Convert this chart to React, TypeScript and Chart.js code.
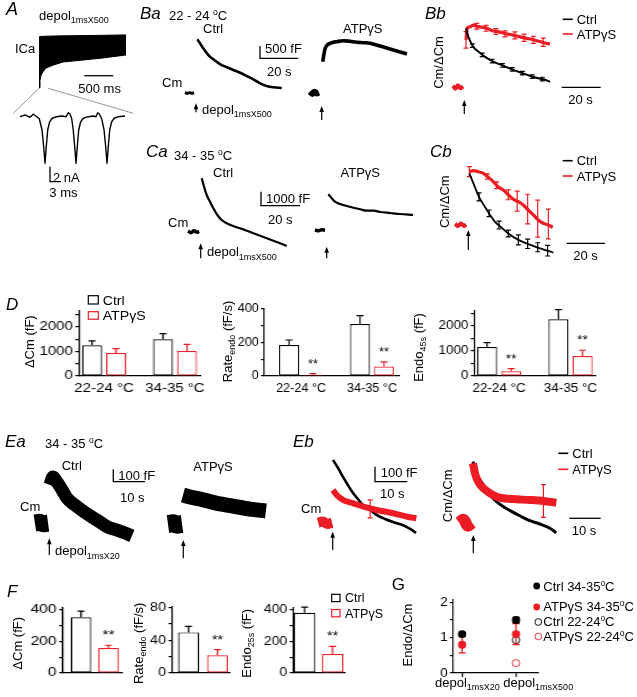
import React, { useEffect, useRef } from 'react';
import { Chart, registerables } from 'chart.js';

Chart.register(...registerables);

const FONT = '"Liberation Sans", Arial, Helvetica, sans-serif';
const RED = '#ec1c24';
const RED_OPEN = '#e8505a';
const GRAY = '#8e9a9a';

/* ---------------- Panel A : ICa ---------------- */
const icaTimeMs = [0, 17, 34, 69, 121, 241, 414, 759, 1103, 1500];
const icaPeakNa = [-5.4, -4.6, -4.1, -3.7, -3.3, -3.0, -2.66, -2.45, -2.23, -1.91];
const icaOutNa = [0.0, 0.04, 0.06, 0.07, 0.08, 0.1, 0.12, 0.15, 0.18, 0.22];
const insetTimeMs = [0, 0.49, 0.97, 1.29, 1.62, 1.87, 2.14, 2.3, 2.43, 2.55, 2.69, 2.88, 3.14, 3.56, 4.05, 4.47, 4.69, 4.85, 5.02, 5.17, 5.31, 5.44, 5.56, 5.7, 5.89, 6.15, 6.63, 7.12, 7.38, 7.54, 7.7, 7.93, 8.16, 8.32, 8.45, 8.57, 8.71, 8.9, 9.15, 9.54, 10.19];
const insetNa = [0, 0.23, -0.08, 0.32, 0, -0.27, -1.77, -4.0, -6.21, -4.0, -1.77, -0.67, -0.21, 0, 0.09, 0, 0.53, 0.36, -0.27, -1.77, -4.0, -6.21, -4.0, -1.77, -0.67, -0.21, 0, 0.09, 0, 0.53, 0.36, -0.27, -1.77, -4.0, -6.21, -4.0, -1.77, -0.67, -0.21, 0, 0.09];

/* ---------------- Panel Ba (22-24 C), Cm in fF, t in s ---------------- */
const baCtrlBaseT = [-5.8, -4.6, -3.4, -2.2, -1.0];
const baCtrlBaseCm = [20, -15, 15, -10, 5];
const baCtrlT = [0.7, 2.1, 3.8, 6.5, 9.1, 12.6, 16.2, 19.6, 23.2, 26.7, 30.2, 33.7, 37.2, 40.7, 45.1];
const baCtrlCm = [2238, 2071, 1863, 1583, 1404, 1208, 1071, 958, 846, 708, 571, 404, 292, 238, 208];
const baAtpBaseT = [-6.3, -5.1, -3.9, -2.8, -1.6];
const baAtpBaseCm = [40, -60, 30, -40, 0];
const baAtpT = [0.4, 1.1, 1.7, 2.8, 5.1, 7.7, 11.2, 14.7, 18.3, 21.7, 25.3, 30.5, 35.8, 41.1, 44.7];
const baAtpCm = [1283, 1633, 1842, 1979, 2075, 2117, 2158, 2133, 2092, 2075, 2050, 1938, 1813, 1688, 1604];

/* ---------------- Panel Ca (34-35 C) ---------------- */
const caCtrlBaseT = [-6.8, -5.3, -3.7, -2.1, -1.0];
const caCtrlBaseCm = [50, -80, 60, -40, 30];
const caCtrlT = [0.4, 1.6, 3.0, 4.7, 6.5, 8.6, 10.9, 13.5, 17.0, 20.5, 24.1, 27.6, 31.1, 34.6, 38.1, 41.6, 45.1];
const caCtrlCm = [3814, 3221, 2621, 2150, 1671, 1193, 836, 600, 407, 243, 71, -114, -286, -471, -643, -829, -1021];
const caAtpBaseT = [-6.3, -4.5, -2.7, -1.05];
const caAtpBaseCm = [30, -40, 40, 0];
const caAtpT = [0.7, 2.5, 4.2, 6.8, 10.4, 13.9, 17.5, 21.0, 24.5, 28.0, 33.2, 38.4, 45.3];
const caAtpCm = [2571, 2286, 2043, 1879, 1736, 1614, 1500, 1400, 1400, 1307, 1236, 1164, 1093];

/* ---------------- Panel Bb (normalised) ---------------- */
const bbBaseT = [-5.8, -4.5, -3.2, -1.9, -0.5];
const bbBaseV = [0.02, -0.03, 0.03, -0.02, 0.01];
const bbCtrlT = [1.1, 1.7, 2.8, 4.9, 7.5, 11.1, 15.4, 20.7, 25.9, 31.2, 36.5, 41.7, 45.3];
const bbCtrlV = [0.995, 0.91, 0.81, 0.68, 0.6, 0.51, 0.43, 0.36, 0.29, 0.23, 0.17, 0.13, 0.09];
const bbCtrlErrT = [4.4, 9.6, 14.9, 20.2, 25.4, 30.7, 35.9, 41.2];
const bbCtrlErrV = [0.7, 0.545, 0.44, 0.365, 0.3, 0.235, 0.175, 0.135];
const bbCtrlErr = [0.03, 0.03, 0.03, 0.03, 0.03, 0.03, 0.03, 0.03];
const bbAtpT = [1.05, 1.7, 3.2, 4.9, 6.7, 8.4, 11.9, 15.4, 18.9, 22.5, 25.9, 29.5, 33.0, 36.5, 40.0, 43.5, 45.3];
const bbAtpV = [0.8, 1.0, 1.02, 1.05, 1.03, 1.02, 0.995, 0.95, 0.93, 0.9, 0.88, 0.85, 0.825, 0.8, 0.77, 0.74, 0.73];
const bbAtpErrT = [1.05, 6.7, 11.6, 16.8, 21.6, 26.8, 31.6, 36.5, 41.7];
const bbAtpErrV = [0.8, 1.03, 0.995, 0.94, 0.9, 0.875, 0.835, 0.8, 0.76];
const bbAtpErr = [0.14, 0.05, 0.05, 0.05, 0.05, 0.06, 0.06, 0.06, 0.07];

/* ---------------- Panel Cb (normalised) ---------------- */
const cbBaseT = [-6.8, -5.3, -3.7, -2.1, -1.0];
const cbBaseV = [0.02, -0.02, 0.03, -0.02, 0.01];
const cbCtrlT = [0.7, 2.8, 5.8, 8.9, 11.6, 14.2, 16.8, 21.2, 26.5, 31.7, 37.0, 42.3, 44.9];
const cbCtrlV = [0.975, 0.79, 0.53, 0.345, 0.19, 0.06, -0.02, -0.16, -0.28, -0.36, -0.43, -0.49, -0.52];
const cbCtrlErrT = [5.8, 11.1, 16.3, 21.2, 26.5, 31.4, 36.7, 41.9];
const cbCtrlErrV = [0.53, 0.22, 0.0, -0.16, -0.28, -0.355, -0.42, -0.485];
const cbCtrlErr = [0.075, 0.063, 0.075, 0.063, 0.094, 0.088, 0.085, 0.1];
const cbAtpT = [0.7, 2.8, 5.4, 8.1, 10.7, 13.3, 15.9, 18.6, 21.2, 23.8, 26.5, 29.1, 31.7, 34.4, 37.0, 39.6, 42.3, 44.6];
const cbAtpV = [1.006, 1.025, 1.006, 0.975, 0.9, 0.82, 0.72, 0.66, 0.57, 0.485, 0.44, 0.377, 0.283, 0.189, 0.094, 0.032, 0.0, -0.043];
const cbAtpErrT = [0.7, 10.2, 15.1, 21.2, 25.9, 31.4, 36.7, 42.3];
const cbAtpErrV = [1.006, 0.915, 0.75, 0.57, 0.45, 0.3, 0.12, 0.02];
const cbAtpErr = [0.094, 0.05, 0.063, 0.094, 0.19, 0.28, 0.35, 0.28];

/* ---------------- Panel Ea (depol 1ms x 20) ---------------- */
const eaCtrlBaseT = [-4.4, -3.1, -1.8, -0.3];
const eaCtrlBaseCm = [0, 5, -5, 0];
const eaCtrlT = [0.3, 1.25, 2.5, 4.1, 5.6, 8.1, 10.6, 13.4, 15.9, 18.4, 21.25, 23.75, 25.9];
const eaCtrlCm = [292, 354, 315, 254, 192, 138, 92, 46, 8, -31, -54, -77, -100];
const eaAtpBaseT = [-4.7, -3.2, -1.8, -0.3];
const eaAtpBaseCm = [0, 5, -5, 0];
const eaAtpT = [0, 2.2, 5.3, 10, 15.6, 20.9, 25.9];
const eaAtpCm = [223, 208, 192, 162, 138, 115, 100];

/* ---------------- Panel Eb ---------------- */
const ebBaseT = [-4.6, -3.2, -1.7, -0.3];
const ebBaseCm = [0, 8, -8, 0];
const ebCtrlT = [0, 1.55, 3.1, 4.6, 6.2, 7.7, 9.3, 11.5, 13.6, 16.1, 18.6, 20.7, 22.9, 24.5, 25.7];
const ebCtrlCm = [418, 365, 305, 251, 198, 158, 118, 85, 51, 25, 5, -9, -29, -49, -69];
const ebAtpT = [0, 1.15, 3.2, 6.3, 9.4, 13.5, 18.7, 22.9, 25.8];
const ebAtpCm = [218, 185, 151, 129, 107, 85, 63, 40, 29];
const ebAtpErrT = [11.5];
const ebAtpErrCm = [92];
const ebAtpErr = [60];
const ebnBaseT = [-4.3, -3.0, -1.6, -0.3];
const ebnBaseV = [0, 0.05, -0.05, 0];
const ebnCtrlT = [0, 0.6, 1.6, 3.2, 5.3, 7.3, 9.4, 11.5, 14.6, 17.6, 20.7, 23.8, 25.8];
const ebnCtrlV = [1.005, 0.868, 0.758, 0.621, 0.456, 0.346, 0.264, 0.198, 0.11, 0.033, -0.021, -0.092, -0.165];
const ebnAtpT = [0, 0.6, 1.6, 3.2, 5.3, 7.3, 9.4, 13.5, 17.6, 21.8, 25.8];
const ebnAtpV = [0.979, 0.814, 0.675, 0.567, 0.484, 0.428, 0.402, 0.386, 0.374, 0.357, 0.329];
const ebnAtpErrT = [21.8];
const ebnAtpErrV = [0.357];
const ebnAtpErr = [0.27];

/* ---------------- Panel D (bars: Ctrl / ATPgS at 22-24 and 34-35 C) ---------------- */
const tempLabels = ['22-24 °C', '34-35 °C'];
const groupX = [1, 2];
const dCmCtrl = [1250, 1500];
const dCmCtrlErr = [180, 230];
const dCmAtp = [940, 1020];
const dCmAtpErr = [180, 270];
const dRateCtrl = [185, 310];
const dRateCtrlErr = [30, 50];
const dRateAtp = [8, 57];
const dRateAtpErr = [6, 27];
const dEndoCtrl = [1160, 2270];
const dEndoCtrlErr = [175, 385];
const dEndoAtp = [190, 800];
const dEndoAtpErr = [105, 230];
const dRateAtpStars = ['**', '**'];
const dEndoAtpStars = ['**', '**'];
const dCmTicks = [0, 500, 1000, 1500, 2000, 2500];
const dRateTicks = [0, 100, 200, 300, 400];
const dEndoTicks = [0, 500, 1000, 1500, 2000, 2500];

/* ---------------- Panel F (bars: Ctrl, ATPgS) ---------------- */
const pairX = [1, 2];
const fCm = [352, 158];
const fCmErr = [38, 17];
const fRate = [49.5, 21.5];
const fRateErr = [7.3, 6.9];
const fEndo = [380, 120];
const fEndoErr = [35, 48];
const fStars = ['', '**'];
const fCmTicks = [0, 100, 200, 300, 400];
const fRateTicks = [0, 20, 40, 60, 80];
const fEndoTicks = [0, 100, 200, 300, 400];

/* ---------------- Panel G ---------------- */
const gX = [1, 2];
const gCtrl34 = [1.1, 1.5];
const gCtrl34Err = [0.05, 0.07];
const gAtp34 = [0.8, 1.1];
const gAtp34Err = [0.23, 0.3];
const gCtrl22 = [null, 0.93];
const gCtrl22Err = [null, 0.05];
const gAtp22 = [null, 0.28];
const gAtp22Err = [null, 0.04];
const gTicks = [0, 0.5, 1, 1.5, 2];

/* ---------------- plugin: error bars + significance stars ---------------- */
function drawErrors(chart: any, args: any, before: boolean) {
  const ds = chart.data.datasets[args.index];
  const eb = ds.errorBars;
  const ctx = chart.ctx;
  const ys = chart.scales.y;
  const els = args.meta.data;
  if (eb && !!eb.before === before) {
    ctx.save();
    ctx.lineWidth = eb.width;
    els.forEach((el: any, i: number) => {
      const e = eb.values[i];
      const raw = ds.data[i];
      const v = raw && typeof raw === 'object' ? raw.y : raw;
      if (e == null || v == null) return;
      const x = el.x;
      const top = ys.getPixelForValue(v + e);
      const bot = eb.mode === 'up' ? el.y : ys.getPixelForValue(v - e);
      ctx.strokeStyle = Array.isArray(eb.color) ? eb.color[i] : eb.color;
      ctx.beginPath();
      ctx.moveTo(x, top);
      ctx.lineTo(x, bot);
      ctx.moveTo(x - eb.cap / 2, top);
      ctx.lineTo(x + eb.cap / 2, top);
      if (eb.mode !== 'up') {
        ctx.moveTo(x - eb.cap / 2, bot);
        ctx.lineTo(x + eb.cap / 2, bot);
      }
      ctx.stroke();
    });
    ctx.restore();
  }
  if (!before && ds.stars) {
    ctx.save();
    ctx.font = `12px ${FONT}`;
    ctx.textAlign = 'center';
    ctx.textBaseline = 'alphabetic';
    ctx.fillStyle = '#000';
    els.forEach((el: any, i: number) => {
      const st = ds.stars[i];
      if (!st) return;
      const raw = ds.data[i];
      const e = eb ? eb.values[i] || 0 : 0;
      ctx.fillText(st, el.x, ys.getPixelForValue(raw.y + e) - 6);
    });
    ctx.restore();
  }
}
const errorBarPlugin = {
  id: 'errorBars',
  beforeDatasetDraw(chart: any, args: any) { drawErrors(chart, args, true); },
  afterDatasetDraw(chart: any, args: any) { drawErrors(chart, args, false); },
};
Chart.register(errorBarPlugin as any);
Chart.defaults.font.family = FONT;
Chart.defaults.font.size = 12;
Chart.defaults.color = '#000';

type Rect = { x: number; y: number; w: number; h: number };
const R = (x: number, y: number, w: number, h: number): Rect => ({ x, y, w, h });

const base = () => ({
  responsive: false,
  animation: false,
  events: [],
  plugins: { legend: { display: false }, tooltip: { enabled: false } },
});

function line(xs: number[], ys: number[], color: string, width: number, smooth = true): any {
  return {
    data: xs.map((x, i) => ({ x, y: ys[i] })),
    borderColor: color,
    backgroundColor: color,
    borderWidth: width,
    pointRadius: 0,
    fill: false,
    clip: false,
    tension: smooth ? 0.4 : 0,
    cubicInterpolationMode: smooth ? 'monotone' : 'default',
    borderCapStyle: 'butt',
    borderJoinStyle: 'round',
  };
}
function errs(xs: number[], ys: number[], es: number[], color: string): any {
  return {
    data: xs.map((x, i) => ({ x, y: ys[i] })),
    showLine: false,
    pointRadius: 0,
    borderColor: color,
    clip: false,
    errorBars: { values: es, color, width: 1.2, cap: 5, mode: 'both' },
  };
}

function traceChart(rect: Rect, ox: number, oy: number, kx: number, ky: number, sets: () => any[]) {
  return {
    rect,
    stretch: 1,
    config: () => ({
      type: 'line',
      data: { datasets: sets() },
      options: {
        ...base(),
        layout: { padding: 0 },
        scales: {
          x: { type: 'linear', display: false, min: (rect.x - ox) / kx, max: (rect.x + rect.w - ox) / kx },
          y: { type: 'linear', display: false, min: (oy - rect.y - rect.h) / ky, max: (oy - rect.y) / ky },
        },
      },
    }),
  };
}

function axisChart(o: any) {
  const s = o.stretch;
  const yWidth = (o.area.x - o.rect.x) / s;
  const padRight = (o.rect.x + o.rect.w - o.area.x - o.area.w) / s;
  const padTop = o.area.y - o.rect.y;
  const xHeight = o.rect.y + o.rect.h - o.area.y - o.area.h;
  return {
    rect: o.rect,
    stretch: s,
    config: () => ({
      type: o.type,
      data: { datasets: o.sets() },
      options: {
        ...base(),
        layout: { padding: { top: padTop, right: padRight, left: 0, bottom: 0 } },
        scales: {
          x: {
            type: 'linear', min: o.xMin, max: o.xMax, offset: false,
            grid: o.xTicks
              ? { display: true, drawOnChartArea: false, drawTicks: true, tickLength: 4, color: '#000', lineWidth: 1.2 }
              : { display: false, drawTicks: false },
            border: { display: true, color: '#000', width: 1.2 },
            ticks: {
              display: !!o.xLabels, autoSkip: false, maxRotation: 0, padding: 5,
              font: { size: 12 },
              callback: (v: number) => (o.xLabels && Number.isInteger(v) ? o.xLabels[v - 1] ?? '' : ''),
            },
            afterBuildTicks: (sc: any) => { sc.ticks = o.xVals.map((v: number) => ({ value: v })); },
            afterFit: (sc: any) => { sc.height = xHeight; },
          },
          y: {
            type: 'linear', min: 0, max: o.yMax,
            grid: { display: true, drawOnChartArea: false, drawTicks: true, tickLength: 3, color: '#000', lineWidth: 1.2 },
            border: { display: true, color: '#000', width: 1.2 },
            ticks: {
              autoSkip: false, padding: 2, font: { size: o.tickSize || 12 },
              callback: (v: number) => (Math.abs(v % o.yMajor) < 1e-9 ? String(v) : ''),
            },
            afterBuildTicks: (sc: any) => { sc.ticks = o.yTicks.map((v: number) => ({ value: v })); },
            afterFit: (sc: any) => { sc.width = yWidth; },
          },
        },
      },
    }),
  };
}

function groupedBars(ctrl: number[], ctrlErr: number[], atp: number[], atpErr: number[], atpStars: string[] | null, s: number) {
  const mk = (vals: number[], e: number[], color: string, stars: string[] | null) => ({
    data: groupX.map((x, i) => ({ x, y: vals[i] })),
    backgroundColor: '#fff',
    borderColor: color,
    borderWidth: 1.2,
    borderSkipped: false,
    inflateAmount: 0,
    categoryPercentage: 48 / 71,
    barPercentage: 20 / 24,
    errorBars: { values: e, color, width: 1.2, cap: 7 / s, mode: 'up' },
    stars,
  });
  return [mk(ctrl, ctrlErr, '#000', null), mk(atp, atpErr, RED, atpStars)];
}
function pairBars(vals: number[], e: number[], thick: number, s: number) {
  return [{
    data: pairX.map((x, i) => ({ x, y: vals[i] })),
    backgroundColor: '#fff',
    borderColor: ['#000', RED],
    borderWidth: 1.2,
    borderSkipped: false,
    inflateAmount: 0,
    barThickness: thick / s,
    errorBars: { values: e, color: ['#000', RED], width: 1.2, cap: 7 / s, mode: 'up' },
    stars: fStars,
  }];
}
function gSet(ys: any[], e: any[], fill: string, stroke: string) {
  return {
    data: gX.map((x, i) => ({ x, y: ys[i] })),
    showLine: false,
    pointRadius: 3.4,
    pointBackgroundColor: fill,
    pointBorderColor: stroke,
    pointBorderWidth: 1.1,
    clip: false,
    errorBars: { values: e, color: stroke, width: 1.3, cap: 7, mode: 'both', before: true },
  };
}

const specs: any[] = [
  // A top ICa envelope
  traceChart(R(34, 30, 96, 64), 39, 37, 0.058, 9.4, () => [
    line(icaTimeMs, icaOutNa, '#000', 1, false),
    { ...line(icaTimeMs, icaPeakNa, '#000', 1, false), fill: '-1', backgroundColor: '#000' },
  ]),
  // A inset
  traceChart(R(14, 106, 116, 62), 20, 116.7, 10.3, 7.5, () => [line(insetTimeMs, insetNa, '#000', 1.4, false)]),
  // Ba
  traceChart(R(178, 30, 120, 72), 196, 93, 1.9, 0.024, () => [
    line(baCtrlBaseT, baCtrlBaseCm, '#000', 3),
    line(baCtrlT, baCtrlCm, '#000', 2.6),
  ]),
  traceChart(R(302, 30, 115, 72), 322, 92.5, 1.9, 0.024, () => [
    line(baAtpBaseT, baAtpBaseCm, '#000', 6),
    line(baAtpT, baAtpCm, '#000', 3.6),
  ]),
  // Ca
  traceChart(R(182, 170, 112, 86), 201, 231.7, 1.9, 0.014, () => [
    line(caCtrlBaseT, caCtrlBaseCm, '#000', 3.5),
    line(caCtrlT, caCtrlCm, '#000', 2.2),
  ]),
  traceChart(R(308, 170, 112, 86), 327, 230.3, 1.9, 0.014, () => [
    line(caAtpBaseT, caAtpBaseCm, '#000', 3.5),
    line(caAtpT, caAtpCm, '#000', 2.2),
  ]),
  // Bb
  traceChart(R(446, 15, 112, 80), 464, 87, 1.9, 59, () => [
    line(bbBaseT, bbBaseV, RED, 4),
    line(bbCtrlT, bbCtrlV, '#000', 2),
    errs(bbCtrlErrT, bbCtrlErrV, bbCtrlErr, '#000'),
    line(bbAtpT, bbAtpV, RED, 3.2),
    errs(bbAtpErrT, bbAtpErrV, bbAtpErr, RED),
  ]),
  // Cb
  traceChart(R(450, 160, 112, 105), 468, 225, 1.9, 53, () => [
    line(cbBaseT, cbBaseV, RED, 4),
    line(cbCtrlT, cbCtrlV, '#000', 1.8),
    errs(cbCtrlErrT, cbCtrlErrV, cbCtrlErr, '#000'),
    line(cbAtpT, cbAtpV, RED, 3.2),
    errs(cbAtpErrT, cbAtpErrV, cbAtpErr, RED),
  ]),
  // Ea
  traceChart(R(28, 462, 112, 86), 49, 523, 3.2, 0.13, () => [
    line(eaCtrlBaseT, eaCtrlBaseCm, '#000', 17),
    line(eaCtrlT, eaCtrlCm, '#000', 13),
  ]),
  traceChart(R(162, 462, 112, 86), 183, 524, 3.2, 0.13, () => [
    line(eaAtpBaseT, eaAtpBaseCm, '#000', 18),
    line(eaAtpT, eaAtpCm, '#000', 15),
  ]),
  // Eb left
  traceChart(R(314, 452, 110, 90), 333, 522.7, 3.23, 0.15, () => [
    line(ebBaseT, ebBaseCm, RED, 10),
    line(ebAtpT, ebAtpCm, RED, 6),
    errs(ebAtpErrT, ebAtpErrCm, ebAtpErr, RED),
    line(ebCtrlT, ebCtrlCm, '#000', 2.6),
  ]),
  // Eb right
  traceChart(R(454, 452, 110, 90), 473, 522.7, 3.23, 60.7, () => [
    line(ebnBaseT, ebnBaseV, RED, 12),
    line(ebnAtpT, ebnAtpV, RED, 8),
    errs(ebnAtpErrT, ebnAtpErrV, ebnAtpErr, RED),
    line(ebnCtrlT, ebnCtrlV, '#000', 3),
  ]),
  // D bars
  axisChart({
    type: 'bar', rect: R(36, 299, 184, 100), area: R(79, 311, 121, 65), stretch: 1.25,
    xMin: 0.648, xMax: 2.352, xVals: groupX, xLabels: tempLabels, yMax: 2650, yTicks: dCmTicks, yMajor: 1000,
    sets: () => groupedBars(dCmCtrl, dCmCtrlErr, dCmAtp, dCmAtpErr, null, 1.25),
  }),
  axisChart({
    type: 'bar', rect: R(238, 297, 180, 102), area: R(264, 309, 136, 67), stretch: 1.05,
    xMin: 0.479, xMax: 2.394, xVals: groupX, xLabels: tempLabels, yMax: 400, yTicks: dRateTicks, yMajor: 200,
    sets: () => groupedBars(dRateCtrl, dRateCtrlErr, dRateAtp, dRateAtpErr, dRateAtpStars, 1.05),
  }),
  axisChart({
    type: 'bar', rect: R(430, 299, 182, 100), area: R(474, 311, 122, 65), stretch: 1.12,
    xMin: 0.65, xMax: 2.357, xVals: groupX, xLabels: tempLabels, yMax: 2600, yTicks: dEndoTicks, yMajor: 1000,
    sets: () => groupedBars(dEndoCtrl, dEndoCtrlErr, dEndoAtp, dEndoAtpErr, dEndoAtpStars, 1.12),
  }),
  // F bars
  axisChart({
    type: 'bar', rect: R(28, 596, 104, 87), area: R(63, 608, 59, 65), stretch: 1.3,
    xMin: 0.345, xMax: 2.491, xVals: pairX, xLabels: null, yMax: 410, yTicks: fCmTicks, yMajor: 200,
    sets: () => pairBars(fCm, fCmErr, 20.5, 1.3),
  }),
  axisChart({
    type: 'bar', rect: R(146, 595, 94, 88), area: R(172, 607, 58, 66), stretch: 1.2,
    xMin: 0.431, xMax: 2.431, xVals: pairX, xLabels: null, yMax: 80.5, yTicks: fRateTicks, yMajor: 40,
    sets: () => pairBars(fRate, fRateErr, 21, 1.2),
  }),
  axisChart({
    type: 'bar', rect: R(262, 596, 93, 87), area: R(293, 608, 52, 65), stretch: 1.17,
    xMin: 0.589, xMax: 2.446, xVals: pairX, xLabels: null, yMax: 410, yTicks: fEndoTicks, yMajor: 200,
    sets: () => pairBars(fEndo, fEndoErr, 21.5, 1.17),
  }),
  // G
  axisChart({
    type: 'line', rect: R(428, 588, 117, 95), area: R(453, 600, 85, 73), stretch: 1.05,
    xMin: 0.833, xMax: 2.407, xVals: gX, xLabels: null, xTicks: true, yMax: 2.065, yTicks: gTicks, yMajor: 1, tickSize: 13,
    sets: () => [
      gSet(gCtrl34, gCtrl34Err, '#000', '#000'),
      gSet(gAtp34, gAtp34Err, RED, RED),
      gSet(gCtrl22, gCtrl22Err, '#fff', '#333'),
      gSet(gAtp22, gAtp22Err, '#fff', RED_OPEN),
    ],
  }),
];

function ChartCanvas({ spec }: { spec: any }) {
  const ref = useRef<HTMLCanvasElement | null>(null);
  useEffect(() => {
    const chart = new Chart(ref.current as HTMLCanvasElement, spec.config());
    return () => chart.destroy();
  }, []);
  const r: Rect = spec.rect;
  return (
    <canvas
      ref={ref}
      width={Math.round(r.w / spec.stretch)}
      height={r.h}
      style={{ position: 'absolute', left: r.x, top: r.y, width: r.w, height: r.h }}
    />
  );
}

/* ---------------- annotation overlay ---------------- */
const Arrow = ({ x, y1, y2 }: any) => (
  <g>
    <line x1={x} y1={y1 + 5} x2={x} y2={y2} stroke="#000" strokeWidth={1.2} />
    <polygon points={`${x - 2.3},${y1 + 6} ${x},${y1} ${x + 2.3},${y1 + 6}`} fill="#000" />
  </g>
);
const ScaleBar = ({ d }: any) => <path d={d} stroke="#000" strokeWidth={1.3} fill="none" />;
const Tx = ({ x, y, size = 13, italic = false, sx = 1, children }: any) =>
  sx !== 1 ? (
    <text transform={`translate(${x} ${y}) scale(${sx} 1)`} fontSize={size}>{children}</text>
  ) : (
    <text x={x} y={y} fontSize={size} fontStyle={italic ? 'italic' : 'normal'}>{children}</text>
  );
const VTx = ({ cx, cy, size = 13, children }: any) => (
  <text transform={`translate(${cx} ${cy}) rotate(-90)`} textAnchor="middle" x={0} y={4} fontSize={size}>{children}</text>
);
const Deg = () => (
  <>
    <tspan fontSize={8.5} dy={-5}>o</tspan>
    <tspan dy={5}>C</tspan>
  </>
);
const Depol = ({ x, y, sub }: any) => (
  <text x={x} y={y} fontSize={13}>
    depol<tspan fontSize={9} dy={3.5}>{sub}</tspan>
  </text>
);
const LineKey = ({ x, y, color, label }: any) => (
  <g>
    <line x1={x} y1={y} x2={x + 10} y2={y} stroke={color} strokeWidth={1.6} />
    <text x={x + 14} y={y + 4.7} fontSize={13}>{label}</text>
  </g>
);

function Overlay() {
  return (
    <svg width={637} height={697} style={{ position: 'absolute', left: 0, top: 0 }} fontFamily={FONT} fill="#000">
      {/* A */}
      <Tx x={6} y={15} size={18} italic>A</Tx>
      <Depol x={39} y={19.5} sub="1msX500" />
      <Tx x={15} y={52.5}>ICa</Tx>
      <ScaleBar d="M84.3 75.7 H113.3" />
      <Tx x={78.3} y={93.3}>500 ms</Tx>
      <line x1={39} y1={88.3} x2={13.3} y2={113.3} stroke={GRAY} strokeWidth={1} />
      <line x1={48.3} y1={88.3} x2={133.3} y2={113.3} stroke={GRAY} strokeWidth={1} />
      <ScaleBar d="M50 166.7 V181.7 H61" />
      <Tx x={53} y={181.7}>2 nA</Tx>
      <Tx x={49.3} y={196.7}>3 ms</Tx>

      {/* Ba */}
      <Tx x={140} y={18.5} size={17} italic>Ba</Tx>
      <Tx x={169} y={20}>22 - 24 <Deg /></Tx>
      <Tx x={203} y={33}>Ctrl</Tx>
      <ScaleBar d="M260 46 V58.3 H298.3" />
      <Tx x={265} y={52.5}>500 fF</Tx>
      <Tx x={267} y={75.5}>20 s</Tx>
      <Tx x={162} y={87.3}>Cm</Tx>
      <Arrow x={196} y1={103.3} y2={112.3} />
      <Depol x={202} y={113.5} sub="1msX500" />
      <Tx x={343} y={33}>ATPγS</Tx>
      <Arrow x={321.7} y1={106} y2={120} />

      {/* Ca */}
      <Tx x={146} y={156.5} size={17} italic>Ca</Tx>
      <Tx x={174} y={160}>34 - 35 <Deg /></Tx>
      <Tx x={213} y={177}>Ctrl</Tx>
      <ScaleBar d="M261 191.7 V205.7 H300" />
      <Tx x={266} y={203}>1000 fF</Tx>
      <Tx x={268} y={223.5}>20 s</Tx>
      <Tx x={168} y={227}>Cm</Tx>
      <Arrow x={200.7} y1={243.3} y2={258.3} />
      <Depol x={207} y={256} sub="1msX500" />
      <Tx x={340.5} y={177}>ATPγS</Tx>
      <Arrow x={326.7} y1={246.7} y2={258.3} />

      {/* Bb */}
      <Tx x={425} y={19} size={17} italic>Bb</Tx>
      <LineKey x={562.7} y={19.3} color="#000" label="Ctrl" />
      <LineKey x={562.7} y={34} color={RED} label="ATPγS" />
      <VTx cx={439} cy={62.5}>Cm/ΔCm</VTx>
      <Arrow x={464.3} y1={100} y2={114} />
      <ScaleBar d="M561.7 87.3 H600.7" />
      <Tx x={568.3} y={103.5}>20 s</Tx>

      {/* Cb */}
      <Tx x={430} y={156.5} size={17} italic>Cb</Tx>
      <LineKey x={562.7} y={160.7} color="#000" label="Ctrl" />
      <LineKey x={562.7} y={176} color={RED} label="ATPγS" />
      <VTx cx={445} cy={201.7}>Cm/ΔCm</VTx>
      <Arrow x={468.3} y1={230} y2={250} />
      <ScaleBar d="M566.7 243.3 H605" />
      <Tx x={573.3} y={260}>20 s</Tx>

      {/* D */}
      <Tx x={6} y={310} size={17} italic>D</Tx>
      <rect x={88.3} y={295.7} width={10} height={8.3} fill="none" stroke="#000" strokeWidth={1.2} />
      <Tx x={102.7} y={304.5} size={12} sx={1.18}>Ctrl</Tx>
      <rect x={88.3} y={311.7} width={10} height={7.5} fill="none" stroke={RED} strokeWidth={1.2} />
      <Tx x={102.7} y={319.5} size={12} sx={1.18}>ATPγS</Tx>
      <VTx cx={30} cy={341.7}>ΔCm (fF)</VTx>
      <VTx cx={227.5} cy={341.5}>
        Rate<tspan fontSize={9} dy={3}>endo</tspan><tspan dy={-3}>{' (fF/s)'}</tspan>
      </VTx>
      <VTx cx={419} cy={347.5}>
        Endo<tspan fontSize={9} dy={3}>45s</tspan><tspan dy={-3}>{' (fF)'}</tspan>
      </VTx>

      {/* Ea */}
      <Tx x={5} y={447} size={17} italic>Ea</Tx>
      <Tx x={45} y={448}>34 - 35 <Deg /></Tx>
      <Tx x={61.7} y={470}>Ctrl</Tx>
      <ScaleBar d="M113.3 469.3 V481.7 H145" />
      <Tx x={118.3} y={479.5}>100 fF</Tx>
      <Tx x={120} y={501.5}>10 s</Tx>
      <Tx x={20} y={511}>Cm</Tx>
      <Arrow x={49.3} y1={538.3} y2={555} />
      <Depol x={55} y={555} sub="1msX20" />
      <Tx x={193.3} y={470.5}>ATPγS</Tx>
      <Arrow x={183.3} y1={540} y2={558.3} />

      {/* Eb */}
      <Tx x={293} y={447} size={17} italic>Eb</Tx>
      <ScaleBar d="M375 466.7 V481.7 H407.3" />
      <Tx x={380.7} y={476.5}>100 fF</Tx>
      <Tx x={380} y={497.5}>10 s</Tx>
      <Tx x={301} y={512.5}>Cm</Tx>
      <Arrow x={332.7} y1={531.7} y2={550} />
      <VTx cx={447.5} cy={495.8}>Cm/ΔCm</VTx>
      <Arrow x={473.3} y1={535} y2={553.3} />
      <LineKey x={558.3} y={453.3} color="#000" label="Ctrl" />
      <LineKey x={558.3} y={469.3} color={RED} label="ATPγS" />
      <ScaleBar d="M569.3 518.3 H600.7" />
      <Tx x={571.7} y={535}>10 s</Tx>

      {/* F */}
      <Tx x={7} y={597} size={17} italic>F</Tx>
      <VTx cx={18.3} cy={643.3}>ΔCm (fF)</VTx>
      <VTx cx={139} cy={643.3}>
        Rate<tspan fontSize={9} dy={3}>endo</tspan><tspan dy={-3}>{' (fF/s)'}</tspan>
      </VTx>
      <VTx cx={246.7} cy={643.3}>
        Endo<tspan fontSize={9} dy={3}>25s</tspan><tspan dy={-3}>{' (fF)'}</tspan>
      </VTx>
      <rect x={331.7} y={594.3} width={8.3} height={7.3} fill="none" stroke="#000" strokeWidth={1.2} />
      <Tx x={345} y={602} size={12.5}>Ctrl</Tx>
      <rect x={331.7} y={609.5} width={8.3} height={7.3} fill="none" stroke={RED} strokeWidth={1.2} />
      <Tx x={345} y={617.5} size={12.5}>ATPγS</Tx>

      {/* G */}
      <Tx x={391.7} y={590} size={17}>G</Tx>
      <circle cx={536.7} cy={586} r={3.4} fill="#000" />
      <Tx x={543.3} y={590.5}>Ctrl 34-35<Deg /></Tx>
      <circle cx={536.7} cy={607} r={3.4} fill={RED} />
      <Tx x={543.3} y={611}>ATPγS 34-35<Deg /></Tx>
      <circle cx={538.3} cy={622} r={3.2} fill="#fff" stroke="#333" strokeWidth={1.1} />
      <Tx x={543.3} y={626}>Ctrl 22-24<Deg /></Tx>
      <circle cx={538.3} cy={636.5} r={3.2} fill="#fff" stroke={RED_OPEN} strokeWidth={1.1} />
      <Tx x={543.3} y={641}>ATPγS 22-24<Deg /></Tx>
      <VTx cx={407.5} cy={635}>Endo/ΔCm</VTx>
      <Depol x={435} y={686.5} sub="1msX20" />
      <Depol x={503.3} y={686.5} sub="1msX500" />
    </svg>
  );
}

export default function App() {
  return (
    <div style={{ position: 'absolute', left: 0, top: 0, width: 637, height: 697, background: '#fff', overflow: 'hidden' }}>
      {specs.map((s, i) => (
        <ChartCanvas key={i} spec={s} />
      ))}
      <Overlay />
    </div>
  );
}
